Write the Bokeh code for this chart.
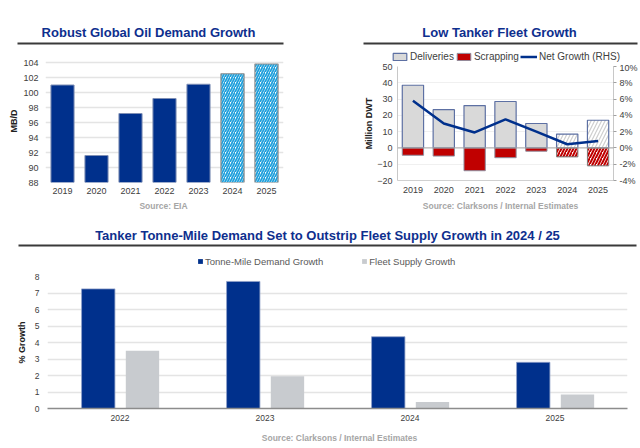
from bokeh.plotting import figure
from bokeh.models import (FactorRange, Range1d, LinearAxis, Legend, LegendItem, Span,
                          FixedTicker, PrintfTickFormatter, ColumnDataSource)
from bokeh.core.properties import value
from bokeh.layouts import column, row
from bokeh.transform import dodge
from bokeh.embed import file_html
from bokeh.resources import INLINE

FONT = "Liberation Sans"
NAVY = "#00308C"
TITLE_C = "#0E2F8E"
TXT = "#404040"
SRC = "#A6A6A6"
GRID = "#E4E4E4"
DEL_FILL, DEL_LINE = "#D9D9D9", "#5D70A3"
SCR_FILL = "#C00000"
FLEET_C = "#C8CBCF"
NAN = float("nan")

# ---------------- data ----------------
# Panel 1: Robust Global Oil Demand Growth (MB/D)
years1 = ["2019", "2020", "2021", "2022", "2023", "2024", "2025"]
demand = [101.0, 91.6, 97.2, 99.2, 101.1, 102.5, 103.8]
n_actual = 5
demand_ticks = [88, 90, 92, 94, 96, 98, 100, 102, 104]

# Panel 2: Low Tanker Fleet Growth
deliveries = [38.5, 23.5, 26.0, 28.5, 15.0, 8.5, 17.0]
scrapping = [-4.5, -5.0, -14.0, -6.0, -2.0, -5.5, -11.0]
net_growth = [5.8, 3.0, 1.9, 3.5, 2.0, 0.45, 0.85]
dwt_ticks = [-20, -10, 0, 10, 20, 30, 40, 50]
pct_ticks = [-4, -2, 0, 2, 4, 6, 8, 10]

# Panel 3: Tonne-mile demand vs fleet supply growth (%)
years3 = ["2022", "2023", "2024", "2025"]
tonne_mile = [7.25, 7.7, 4.35, 2.8]
fleet_supply = [3.5, 1.95, 0.4, 0.85]
growth_ticks = [0, 1, 2, 3, 4, 5, 6, 7, 8]


def no_align(f):
    try:
        f.frame_align = False
    except Exception:
        pass


def blank(w, h):
    f = figure(width=w, height=h, x_range=Range1d(0, w), y_range=Range1d(h, 0),
               x_axis_type=None, y_axis_type=None, output_backend="svg",
               toolbar_location=None, min_border=0)
    f.min_border_left = f.min_border_right = f.min_border_top = f.min_border_bottom = 0
    f.outline_line_color = None
    f.grid.visible = False
    no_align(f)
    return f


def header(w, h, title, cx, cy, r0, r1, ry):
    f = blank(w, h)
    f.text(x=[cx], y=[cy], text=[title], text_font=value(FONT),
           text_font_size=value("13px"), text_font_style="bold", text_color=TITLE_C,
           text_align="center", text_baseline="middle")
    f.segment(x0=[r0], y0=[ry], x1=[r1], y1=[ry], line_color="#3A3A3A", line_width=2)
    return f


def footer(w, h, text, cx, cy):
    f = blank(w, h)
    f.text(x=[cx], y=[cy], text=[text], text_font=value(FONT),
           text_font_size=value("8.5px"), text_font_style="bold", text_color=SRC,
           text_align="center", text_baseline="middle")
    return f


def style_axes(p, tick_size="9px", label_size="9px"):
    for ax in p.axis:
        ax.major_label_text_font = FONT
        ax.major_label_text_font_size = tick_size
        ax.major_label_text_color = TXT
        ax.axis_label_text_font = FONT
        ax.axis_label_text_font_size = label_size
        ax.axis_label_text_font_style = "bold"
        ax.axis_label_text_color = "#202020"
        ax.minor_tick_line_color = None
        ax.major_tick_line_color = None
        ax.major_tick_out = 0
        ax.major_tick_in = 0
        ax.minor_tick_out = 0
    p.outline_line_color = None
    p.xgrid.grid_line_color = None
    no_align(p)


# ---------------- panel 1 ----------------
p1 = figure(x_range=FactorRange(*years1), y_range=Range1d(88, 104.4),
            width=320, height=146, output_backend="svg", toolbar_location=None,
            min_border_left=45, min_border_right=37, min_border_top=7, min_border_bottom=16)
src1a = ColumnDataSource(dict(x=years1[:n_actual], top=demand[:n_actual]))
src1b = ColumnDataSource(dict(x=years1[n_actual:], top=demand[n_actual:]))
p1.vbar(x="x", top="top", bottom=88, width=0.68, source=src1a,
        fill_color=NAVY, line_color="#7F8FB5", line_width=1)
p1.vbar(x="x", top="top", bottom=88, width=0.68, source=src1b,
        fill_color="white", line_color="#8C8C8C", line_width=1.2,
        hatch_pattern="right_diagonal_line", hatch_color="#1EA0DC",
        hatch_weight=1.8, hatch_scale=5)
p1.yaxis.ticker = FixedTicker(ticks=demand_ticks)
p1.yaxis.axis_label = "MB/D"
p1.yaxis.axis_line_color = None
p1.yaxis.major_label_standoff = 7
p1.yaxis.axis_label_standoff = 1
p1.xaxis.axis_line_color = None
p1.xaxis.major_label_standoff = 5
style_axes(p1, "9px", "9px")
p1.ygrid.grid_line_color = GRID
p1.ygrid.grid_line_width = 1.5

h1 = header(320, 52, "Robust Global Oil Demand Growth", 148, 32, 17, 283, 43)
f1 = footer(320, 20, "Source: EIA", 163, 7)

# ---------------- panel 2 ----------------
p2 = figure(x_range=FactorRange(*years1), y_range=Range1d(-20, 50),
            width=320, height=136, output_backend="svg", toolbar_location=None,
            min_border_left=77, min_border_right=25, min_border_top=4, min_border_bottom=18)
p2.extra_y_ranges = {"pct": Range1d(-4, 10)}
src2a = ColumnDataSource(dict(x=years1[:n_actual], d=deliveries[:n_actual], s=scrapping[:n_actual]))
src2b = ColumnDataSource(dict(x=years1[n_actual:], d=deliveries[n_actual:], s=scrapping[n_actual:]))
p2.vbar(x="x", top="d", bottom=0, width=0.69, source=src2a,
        fill_color=DEL_FILL, line_color=DEL_LINE, line_width=1.2)
p2.vbar(x="x", top=0, bottom="s", width=0.69, source=src2a,
        fill_color=SCR_FILL, line_color="#8E8E9E", line_width=1)
p2.vbar(x="x", top="d", bottom=0, width=0.69, source=src2b,
        fill_color="white", line_color=DEL_LINE, line_width=1.2,
        hatch_pattern="right_diagonal_line", hatch_color="#CFCFCF",
        hatch_weight=1.2, hatch_scale=7)
p2.vbar(x="x", top=0, bottom="s", width=0.69, source=src2b,
        fill_color="white", line_color="#7A7A7A", line_width=1,
        hatch_pattern="right_diagonal_line", hatch_color=SCR_FILL,
        hatch_weight=2, hatch_scale=6)
p2.add_layout(Span(location=0, dimension="width", line_color="#A6A6A6", line_width=1))
p2.line(x=years1, y=net_growth, y_range_name="pct", line_color=NAVY, line_width=2.5)
p2.add_layout(LinearAxis(y_range_name="pct", ticker=FixedTicker(ticks=pct_ticks),
                         formatter=PrintfTickFormatter(format="%d%%")), "right")
p2.yaxis[0].ticker = FixedTicker(ticks=dwt_ticks)
p2.yaxis[0].axis_label = "Million DWT"
p2.yaxis[0].major_label_standoff = 5
p2.yaxis[0].axis_label_standoff = 0
style_axes(p2, "9px", "9px")
for ax in p2.yaxis:
    ax.axis_line_color = "#C8C8C8"
p2.yaxis[1].major_tick_line_color = "#A0A0A0"
p2.yaxis[1].major_tick_out = 3
p2.yaxis[1].major_label_standoff = 3
p2.xaxis.axis_line_color = "#D0D0D0"
p2.xaxis.major_label_standoff = 6
p2.ygrid.grid_line_color = "#F0F0F0"

h2 = header(320, 62, "Low Tanker Fleet Growth", 179, 32, 43, 317, 43)
k_del = h2.vbar(x=[NAN], top=[NAN], width=1, fill_color=DEL_FILL, line_color=DEL_LINE, line_width=1.2)
k_scr = h2.vbar(x=[NAN], top=[NAN], width=1, fill_color=SCR_FILL, line_color="#8E8E9E", line_width=1)
k_net = h2.line(x=[NAN], y=[NAN], line_color=NAVY, line_width=2.5)
leg2 = Legend(items=[LegendItem(label="Deliveries", renderers=[k_del]),
                     LegendItem(label="Scrapping", renderers=[k_scr]),
                     LegendItem(label="Net Growth (RHS)", renderers=[k_net])],
              orientation="horizontal", location=(71, 0),
              glyph_width=17, glyph_height=9, label_standoff=2, spacing=1,
              label_height=11, padding=0, margin=0,
              label_text_font=FONT, label_text_font_size="10px", label_text_color=TXT,
              border_line_color=None, background_fill_alpha=0)
h2.add_layout(leg2, "center")
f2 = footer(320, 20, "Source: Clarksons / Internal Estimates", 180, 7)

# ---------------- panel 3 ----------------
p3 = figure(x_range=FactorRange(*years3), y_range=Range1d(0, 8),
            width=640, height=158, output_backend="svg", toolbar_location=None,
            min_border_left=47, min_border_right=13, min_border_top=6, min_border_bottom=20)
src3 = ColumnDataSource(dict(x=years3, tm=tonne_mile, fs=fleet_supply))
p3.vbar(x=dodge("x", -0.15, range=p3.x_range), top="tm", width=0.23, source=src3,
        fill_color=NAVY, line_color="#8FA0C8", line_width=0.8)
p3.vbar(x=dodge("x", 0.155, range=p3.x_range), top="fs", width=0.23, source=src3,
        fill_color=FLEET_C, line_color=None)
p3.yaxis.ticker = FixedTicker(ticks=growth_ticks)
p3.yaxis.axis_label = "% Growth"
p3.yaxis.axis_line_color = None
p3.yaxis.major_label_standoff = 8
p3.yaxis.axis_label_standoff = 5
style_axes(p3, "8.5px", "9px")
p3.xaxis.axis_line_color = "#8C8C8C"
p3.xaxis.axis_line_width = 1.5
p3.xaxis.major_label_standoff = 6
p3.ygrid.grid_line_color = GRID
p3.ygrid.grid_line_width = 1.5

h3 = header(640, 52, "Tanker Tonne-Mile Demand Set to Outstrip Fleet Supply Growth in 2024 / 25",
            327, 17, 18, 636, 27)
k_tm = h3.vbar(x=[NAN], top=[NAN], width=1, fill_color=NAVY, line_color=None)
k_fs = h3.vbar(x=[NAN], top=[NAN], width=1, fill_color=FLEET_C, line_color=None)
leg3 = Legend(items=[LegendItem(label="Tonne-Mile Demand Growth", renderers=[k_tm]),
                     LegendItem(label="Fleet Supply Growth", renderers=[k_fs])],
              orientation="horizontal", location=(197, 3),
              glyph_width=6, glyph_height=6, label_standoff=2, spacing=38,
              label_height=12, padding=0, margin=0,
              label_text_font=FONT, label_text_font_size="9.5px", label_text_color="#595959",
              border_line_color=None, background_fill_alpha=0)
h3.add_layout(leg3, "center")
f3 = footer(640, 20, "Source: Clarksons / Internal Estimates", 339, 9)

layout = column(row(column(h1, p1, f1), column(h2, p2, f2)), column(h3, p3, f3))
open("out.html", "w").write(file_html(layout, INLINE))
